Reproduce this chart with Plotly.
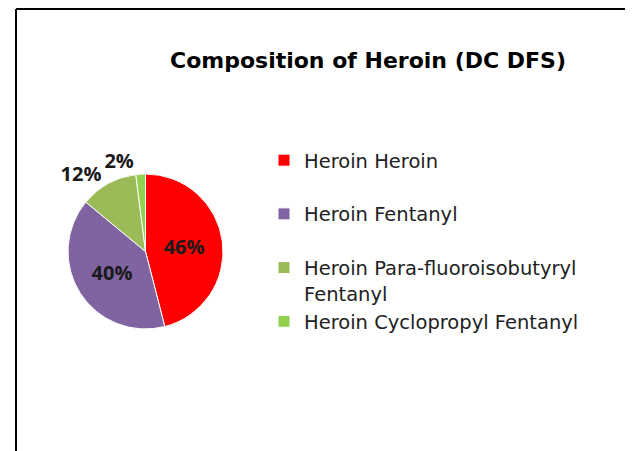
import plotly.graph_objects as go

# ── Data ──────────────────────────────────────────────────────────────────────
labels = [
    "Heroin Heroin",
    "Heroin Fentanyl",
    "Heroin Para-fluoroisobutyryl",
    "Heroin Cyclopropyl Fentanyl",
]
# legend text (Excel wraps the long entry and spaces entries out)
legend_names = [
    "Heroin Heroin<br> ",
    "Heroin Fentanyl<br> ",
    "Heroin Para-fluoroisobutyryl<br>Fentanyl",
    "Heroin Cyclopropyl Fentanyl",
]
values = [46, 40, 12, 2]
colors = ["#FF0000", "#8064A2", "#9BBB59", "#92D050"]

W, H = 633, 451
OFF = 8          # page body margin of the exported html

PCT = "%{percent:.0%}"
LABEL_FONT = dict(family="Open Sans", size=20, color="#1a1a1a", weight="bold")
DOMAIN = dict(x=[60 / W, 215 / W], y=[1 - 321 / H, 1 - 166 / H])

fig = go.Figure()

# main pie – all slice labels except the tiny 2% one
fig.add_trace(go.Pie(
    labels        = legend_names,
    values        = values,
    sort          = False,
    direction     = "clockwise",
    rotation      = 0,
    marker        = dict(colors=colors, line=dict(color="white", width=1)),
    texttemplate  = [PCT, PCT, PCT, ""],
    textposition  = ["inside", "inside", "outside", "outside"],
    textfont      = LABEL_FONT,
    insidetextorientation = "horizontal",
    domain        = DOMAIN,
    customdata    = labels,
    hovertemplate = "%{customdata}: %{percent:.0%}<extra></extra>",
))

# same pie, transparent – carries the 2% label so it isn't scooted with a leader line
fig.add_trace(go.Pie(
    labels        = legend_names,
    values        = values,
    sort          = False,
    direction     = "clockwise",
    rotation      = 0,
    marker        = dict(colors=["rgba(0,0,0,0)"] * 4, line=dict(width=0)),
    texttemplate  = ["", "", "", PCT],
    textposition  = "outside",
    textfont      = LABEL_FONT,
    domain        = DOMAIN,
    showlegend    = False,
    hoverinfo     = "skip",
))

fig.update_layout(
    width  = W,
    height = H,
    margin = dict(l=0, r=0, t=0, b=0),
    paper_bgcolor = "white",
    plot_bgcolor  = "white",
    title = dict(
        text    = "<b>Composition of Heroin (DC DFS)</b>",
        font    = dict(family="DejaVu Sans", size=22, color="black"),
        x       = (368 - OFF) / W,
        xanchor = "center",
        y       = 1 - (60 - OFF) / H,
        yanchor = "middle",
    ),
    legend = dict(
        x       = 256 / W,
        xanchor = "left",
        y       = 1 - (141 - OFF) / H,
        yanchor = "top",
        font    = dict(family="DejaVu Sans", size=19.5, color="#222222"),
        itemwidth = 30,
        valign  = "top",
    ),
    showlegend = True,
)

# chart frame (left and top edges visible)
TOP = 1 - 1 / H
fig.add_shape(type="line", xref="paper", yref="paper",
              x0=(16 - OFF) / W, x1=(16 - OFF) / W, y0=0, y1=TOP,
              line=dict(color="black", width=2))
fig.add_shape(type="line", xref="paper", yref="paper",
              x0=(16 - OFF) / W, x1=1, y0=TOP, y1=TOP,
              line=dict(color="black", width=2))

fig.write_html("out.html")
